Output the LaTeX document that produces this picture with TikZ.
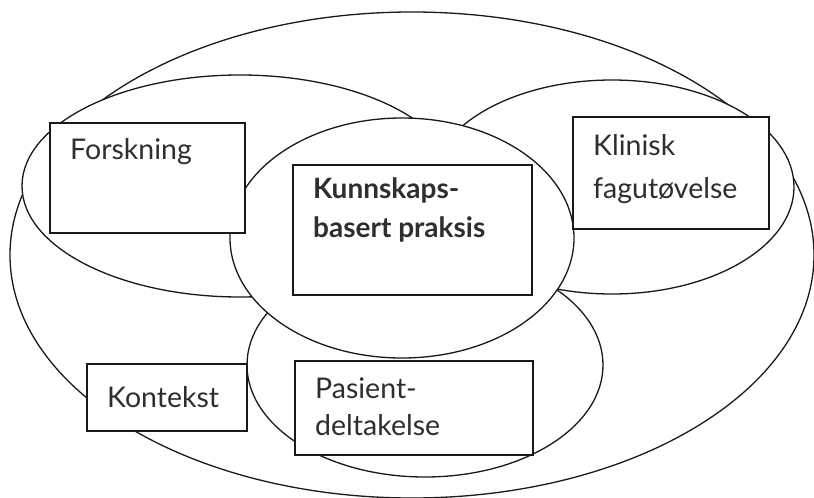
\documentclass[tikz,border=0pt]{standalone}
\usepackage{fontspec}
\setmainfont{Lato}
\begin{document}
\begin{tikzpicture}[x=1pt,y=-1pt,
  ln/.style={line width=1.3pt, draw=black!90},
  oval/.style={ln, fill=white},
  box/.style={ln, fill=white, rectangle, inner sep=0pt},
  lbl/.style={anchor=base west, inner sep=0pt, font=\fontsize{28.5}{32}\selectfont, text=black!82},
  blbl/.style={lbl, font=\fontsize{28}{32}\selectfont\bfseries}]
\useasboundingbox (0,0) rectangle (814,498);
% ellipses, back to front
\draw[oval] (412,255) ellipse [x radius=402pt, y radius=243pt];
\draw[oval] (240,186) ellipse [x radius=218pt, y radius=111pt];
\draw[oval] (612,187) ellipse [x radius=182pt, y radius=107pt];
\draw[oval] (425,365) ellipse [x radius=178pt, y radius=112pt];
\draw[oval] (402,238) ellipse [x radius=172pt, y radius=120pt];
% boxes
\node[box, minimum width=195pt, minimum height=110pt] (forsk) at (147.5,178) {};
\node[box, minimum width=196pt, minimum height=112pt] (klin) at (671,173) {};
\node[box, minimum width=239pt, minimum height=130pt] (kbp) at (412.5,230) {};
\node[box, minimum width=160pt, minimum height=67pt] (kont) at (167,397.5) {};
\node[box, minimum width=238pt, minimum height=94pt] (pas) at (414,408) {};
% labels
\node[lbl] (tforsk) at (70,159) {Forskning};
\node[lbl] (tklin1) at (593,155) {Klinisk};
\node[lbl] (tklin2) at (593,198) {fagutøvelse};
\node[blbl] (tkbp1) at (313,198) {Kunnskaps-};
\node[blbl] (tkbp2) at (313,237) {basert praksis};
\node[lbl] (tkont) at (107,407) {Kontekst};
\node[lbl] (tpas1) at (315,398) {Pasient-};
\node[lbl] (tpas2) at (315,435) {deltakelse};
\end{tikzpicture}
\end{document}
